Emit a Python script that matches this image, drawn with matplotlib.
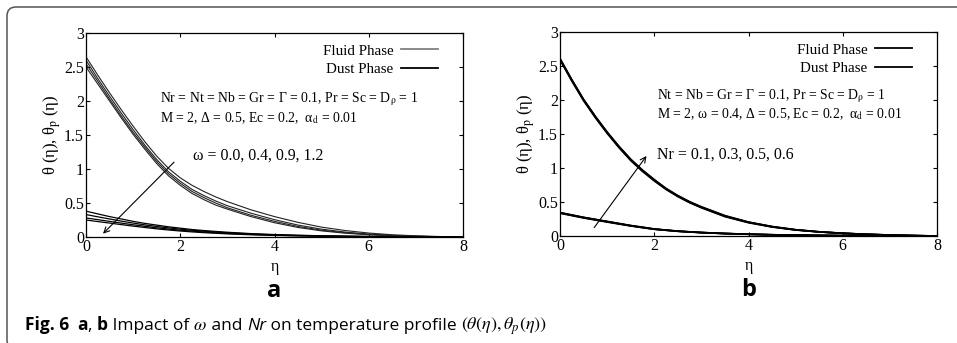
import matplotlib
matplotlib.use('Agg')
from matplotlib import pyplot as plt
from matplotlib.lines import Line2D
from matplotlib.patches import FancyBboxPatch
from matplotlib.transforms import IdentityTransform

eta = [0, 0.25, 0.5, 0.75, 1, 1.25, 1.5, 1.75, 2, 2.25, 2.5, 2.75, 3,
       3.5, 4, 4.5, 5, 5.5, 6, 6.5, 7, 7.5, 8]
x_ticks = [0, 2, 4, 6, 8]
y_ticks = [0, 0.5, 1, 1.5, 2, 2.5, 3]
y_tick_labels = ['0', '0.5', '1', '1.5', '2', '2.5', '3']

# panel a: omega = 0.0, 0.4, 0.9, 1.2
omega_values = [0.0, 0.4, 0.9, 1.2]
fluid_a = [
    [2.65, 2.38, 2.12, 1.87, 1.63, 1.40, 1.19, 1.01, 0.87, 0.76, 0.67, 0.59, 0.52,
     0.40, 0.30, 0.215, 0.145, 0.095, 0.058, 0.033, 0.017, 0.007, 0],
    [2.60, 2.33, 2.07, 1.82, 1.58, 1.35, 1.14, 0.96, 0.82, 0.70, 0.61, 0.53, 0.46,
     0.35, 0.255, 0.175, 0.115, 0.072, 0.043, 0.024, 0.012, 0.005, 0],
    [2.55, 2.29, 2.03, 1.78, 1.54, 1.32, 1.11, 0.93, 0.79, 0.67, 0.58, 0.50, 0.43,
     0.32, 0.23, 0.155, 0.10, 0.063, 0.037, 0.021, 0.010, 0.004, 0],
    [2.50, 2.25, 2.00, 1.75, 1.51, 1.29, 1.08, 0.90, 0.76, 0.64, 0.55, 0.47, 0.41,
     0.30, 0.21, 0.14, 0.09, 0.056, 0.033, 0.018, 0.009, 0.003, 0],
]
dust_a = [
    [0.38, 0.34, 0.30, 0.265, 0.23, 0.20, 0.175, 0.15, 0.13, 0.11, 0.095, 0.082, 0.07,
     0.05, 0.036, 0.026, 0.018, 0.012, 0.008, 0.005, 0.003, 0.001, 0],
    [0.33, 0.297, 0.265, 0.233, 0.205, 0.178, 0.155, 0.134, 0.115, 0.099, 0.085, 0.073, 0.062,
     0.045, 0.032, 0.023, 0.016, 0.011, 0.007, 0.004, 0.002, 0.001, 0],
    [0.28, 0.255, 0.23, 0.204, 0.18, 0.157, 0.135, 0.117, 0.10, 0.086, 0.073, 0.062, 0.053,
     0.038, 0.027, 0.019, 0.013, 0.009, 0.006, 0.003, 0.002, 0.001, 0],
    [0.25, 0.227, 0.205, 0.182, 0.16, 0.14, 0.12, 0.103, 0.088, 0.075, 0.064, 0.055, 0.046,
     0.033, 0.023, 0.016, 0.011, 0.007, 0.005, 0.003, 0.001, 0.0005, 0],
]

# panel b: Nr = 0.1, 0.3, 0.5, 0.6 (curves lie almost on top of each other)
nr_values = [0.1, 0.3, 0.5, 0.6]
fluid_b = [
    [2.59, 2.28, 1.99, 1.74, 1.51, 1.30, 1.11, 0.95, 0.81, 0.685, 0.58, 0.49, 0.415,
     0.285, 0.195, 0.132, 0.088, 0.059, 0.039, 0.024, 0.013, 0.006, 0],
    [2.60, 2.29, 2.00, 1.75, 1.52, 1.31, 1.12, 0.96, 0.82, 0.69, 0.585, 0.495, 0.42,
     0.29, 0.20, 0.135, 0.09, 0.06, 0.04, 0.025, 0.014, 0.006, 0],
    [2.605, 2.295, 2.005, 1.755, 1.525, 1.315, 1.125, 0.965, 0.825, 0.695, 0.59, 0.50, 0.425,
     0.295, 0.203, 0.137, 0.091, 0.061, 0.04, 0.025, 0.014, 0.006, 0],
    [2.61, 2.30, 2.01, 1.76, 1.53, 1.32, 1.13, 0.97, 0.83, 0.70, 0.595, 0.505, 0.43,
     0.30, 0.205, 0.14, 0.093, 0.062, 0.041, 0.026, 0.015, 0.006, 0],
]
dust_b = [
    [0.335, 0.30, 0.265, 0.235, 0.205, 0.176, 0.148, 0.123, 0.099, 0.084, 0.069, 0.059, 0.049,
     0.035, 0.025, 0.017, 0.012, 0.008, 0.005, 0.003, 0.002, 0.001, 0],
    [0.34, 0.305, 0.27, 0.24, 0.21, 0.18, 0.15, 0.125, 0.10, 0.085, 0.07, 0.06, 0.05,
     0.036, 0.026, 0.018, 0.012, 0.008, 0.005, 0.003, 0.002, 0.001, 0],
    [0.342, 0.307, 0.272, 0.242, 0.212, 0.182, 0.152, 0.127, 0.102, 0.086, 0.071, 0.061, 0.051,
     0.037, 0.026, 0.018, 0.012, 0.008, 0.005, 0.003, 0.002, 0.001, 0],
    [0.345, 0.31, 0.275, 0.245, 0.215, 0.185, 0.155, 0.13, 0.104, 0.088, 0.072, 0.062, 0.052,
     0.037, 0.027, 0.019, 0.013, 0.008, 0.005, 0.003, 0.002, 0.001, 0],
]

SERIF = 'Liberation Serif'
SANS = 'Open Sans'
plt.rcParams['mathtext.fontset'] = 'stix'
plt.rcParams['font.family'] = [SERIF, 'DejaVu Serif']


def draw_panel(ax, fluid, dust, fluid_style, dust_style, legend_fluid_color,
               params, note, note_xy, arrow_from, arrow_to, letter):
    for curve in fluid:
        ax.plot(eta, curve, **fluid_style)
    for curve in dust:
        ax.plot(eta, curve, **dust_style)

    ax.set_xlim(0, 8)
    ax.set_ylim(0, 3)
    ax.set_xticks(x_ticks)
    ax.set_yticks(y_ticks)
    ax.set_yticklabels(y_tick_labels)
    ax.tick_params(direction='in', length=3, width=0.8, top=True, right=True,
                   labelsize=11.5, pad=1.5)
    for spine in ax.spines.values():
        spine.set_linewidth(0.9)
    ax.set_xlabel('η', fontsize=11.5, labelpad=3)
    ax.set_ylabel('θ (η), θ$_\\mathrm{p}$ (η)', fontsize=12, labelpad=1)

    handles = [Line2D([], [], color=legend_fluid_color, lw=1.3),
               Line2D([], [], color='black', lw=1.3)]
    ax.legend(handles, ['Fluid Phase', 'Dust Phase'], loc='upper right',
              bbox_to_anchor=(0.935, 0.945), frameon=False, markerfirst=False,
              fontsize=10.8, handlelength=2.5, handletextpad=0.5,
              borderpad=0, borderaxespad=0, labelspacing=0.33)

    ax.text(params[0][0], params[0][1], params[0][2], fontsize=9.9, va='center')
    ax.text(params[1][0], params[1][1], params[1][2], fontsize=9.9, va='center')
    ax.text(note_xy[0], note_xy[1], note, fontsize=11.4, va='center')
    ax.annotate('', xy=arrow_to, xytext=arrow_from,
                arrowprops=dict(arrowstyle='->', lw=0.8, color='black',
                                mutation_scale=10))
    ax.text(0.5, -0.265, letter, transform=ax.transAxes, ha='center', va='center',
            fontsize=17, fontweight='bold', family=SANS)


def add_caption(fig):
    renderer = fig.canvas.get_renderer()
    pieces = [
        ('Fig. 6', dict(fontweight='bold', family=SANS)),
        ('  ', dict(family=SANS)),
        ('a', dict(fontweight='bold', family=SANS)),
        (', ', dict(family=SANS)),
        ('b', dict(fontweight='bold', family=SANS)),
        (' Impact of ', dict(family=SANS)),
        ('$\\omega$', dict(fontsize=13)),
        (' and ', dict(family=SANS)),
        ('Nr', dict(style='italic', family=SANS)),
        (' on temperature profile ', dict(family=SANS)),
        ('$(\\theta(\\eta),\\theta_p(\\eta))$', dict(fontsize=13)),
    ]
    x = 25
    y = 343 - 330
    for text, style in pieces:
        style.setdefault('fontsize', 12.5)
        t = fig.text(x / 957, y / 343, text, va='baseline', ha='left', **style)
        if text.strip() == '':
            x += 4 * len(text)
        else:
            x += t.get_window_extent(renderer=renderer).width


def main():
    fig = plt.figure(figsize=(9.57, 3.43), dpi=100)

    # rounded frame round the figure; it runs past the right and bottom edges
    border = FancyBboxPatch((7, -6), 1000, 343 - 7 + 6, transform=IdentityTransform(),
                            boxstyle='round,pad=0,rounding_size=9', fill=False,
                            edgecolor='#555555', lw=1.1)
    fig.patches.append(border)

    ax_a = fig.add_axes([86 / 957, 1 - 237 / 343, 377 / 957, 204 / 343])
    ax_b = fig.add_axes([560 / 957, 1 - 236 / 343, 377 / 957, 204 / 343])

    draw_panel(
        ax_a, fluid_a, dust_a,
        dict(color='#222222', lw=0.8), dict(color='black', lw=0.9), '#808080',
        [(1.57, 2.02, 'Nr = Nt = Nb = Gr = Γ = 0.1, Pr = Sc = D$_\\mathrm{ρ}$ = 1'),
         (1.57, 1.75, 'M = 2, Δ = 0.5, Ec = 0.2,  α$_\\mathrm{d}$ = 0.01')],
        'ω = ' + ', '.join(f'{w:.1f}' for w in omega_values), (2.27, 1.19),
        (1.91, 1.13), (0.32, 0.02), 'a')

    draw_panel(
        ax_b, fluid_b, dust_b,
        dict(color='black', lw=1.2), dict(color='black', lw=1.2), 'black',
        [(2.05, 2.06, 'Nt = Nb = Gr = Γ = 0.1, Pr = Sc = D$_\\mathrm{ρ}$ = 1'),
         (2.05, 1.79, 'M = 2, ω = 0.4, Δ = 0.5, Ec = 0.2,  α$_\\mathrm{d}$ = 0.01')],
        'Nr = ' + ', '.join(f'{n:.1f}' for n in nr_values), (2.05, 1.2),
        (0.69, 0.09), (1.87, 1.21), 'b')

    add_caption(fig)
    fig.savefig('out.png', dpi=100)


if __name__ == '__main__':
    main()
